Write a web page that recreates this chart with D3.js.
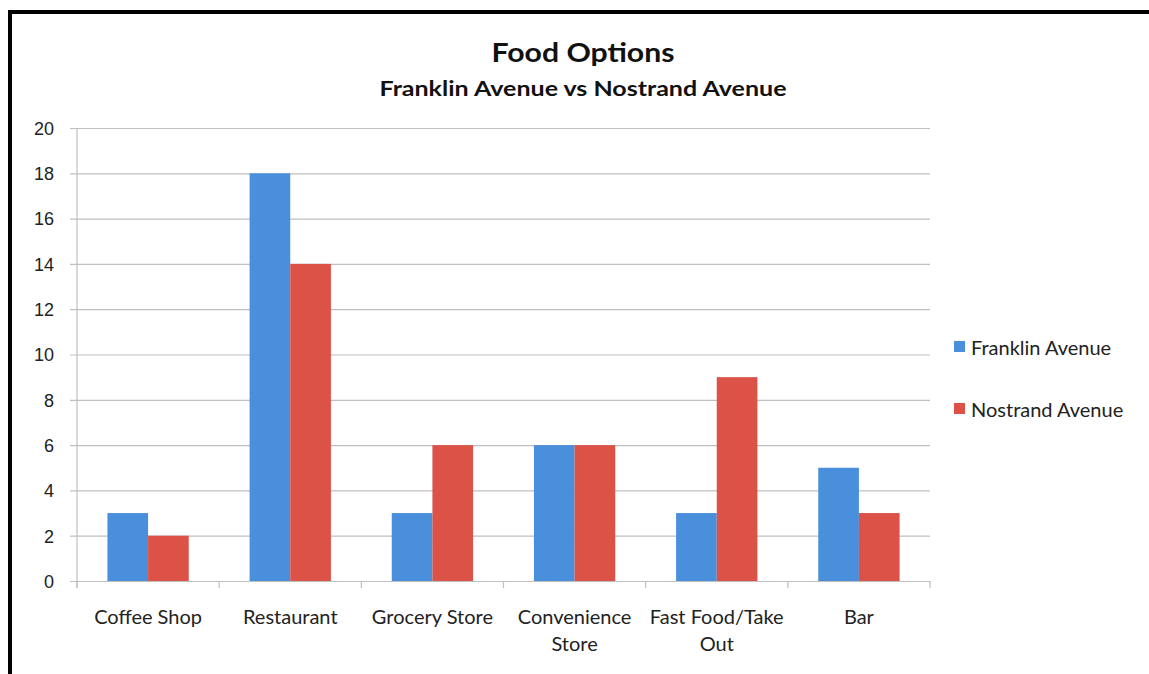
<!DOCTYPE html>
<html>
<head>
<meta charset="utf-8">
<script src="https://cdn.jsdelivr.net/npm/d3@7"></script>
<style>
  body { margin: 0; background: #fff; }
  svg { display: block; font-family: Lato, "Open Sans", sans-serif; }
</style>
</head>
<body>
<svg id="chart" width="1149" height="674"></svg>
<script>
const categories = ["Coffee Shop", "Restaurant", "Grocery Store", "Convenience Store", "Fast Food/Take Out", "Bar"];
const seriesNames = ["Franklin Avenue", "Nostrand Avenue"];
const franklin = [3, 18, 3, 6, 3, 5];
const nostrand = [2, 14, 6, 6, 9, 3];
const yTicks = [0, 2, 4, 6, 8, 10, 12, 14, 16, 18, 20];

// label wrapping as in the original
const labelLines = {
  "Convenience Store": ["Convenience", "Store"],
  "Fast Food/Take Out": ["Fast Food/Take", "Out"]
};

const colors = { "Franklin Avenue": "#4a8fdb", "Nostrand Avenue": "#dc5246" };
const margin = { top: 128, right: 219, bottom: 93, left: 77 };
const W = 1149, H = 674;

const svg = d3.select("#chart");

// frame (top and left edges visible)
svg.append("path")
  .attr("d", `M10,${H} L10,12 L${W},12`)
  .attr("fill", "none")
  .attr("stroke", "#000")
  .attr("stroke-width", 4);

const data = categories.map((c, i) => ({ cat: c, "Franklin Avenue": franklin[i], "Nostrand Avenue": nostrand[i] }));

const x0 = d3.scaleBand()
  .domain(categories)
  .range([margin.left, W - margin.right])
  .paddingInner(0.428)
  .paddingOuter(0.214);

const x1 = d3.scaleBand()
  .domain(seriesNames)
  .range([0, x0.bandwidth()]);

const y = d3.scaleLinear()
  .domain([0, 20])
  .range([H - margin.bottom, margin.top]);

// gridlines + y axis
const yAxis = d3.axisLeft(y)
  .tickValues(yTicks)
  .tickSize(-(W - margin.right - margin.left) - 7)
  .tickPadding(16)
  .tickFormat(d3.format("d"));

const yg = svg.append("g")
  .attr("transform", `translate(${margin.left - 7},0)`)
  .call(yAxis);
yg.select(".domain").remove();
yg.selectAll(".tick line").attr("stroke", "#bfbfbf").attr("stroke-width", 1.2);
yg.selectAll(".tick text")
  .attr("font-size", 18)
  .attr("fill", "#222")
  .attr("x", -16)
  .attr("dy", "0.35em");

// vertical axis line
svg.append("line")
  .attr("x1", margin.left).attr("x2", margin.left)
  .attr("y1", margin.top).attr("y2", H - margin.bottom + 7)
  .attr("stroke", "#bfbfbf").attr("stroke-width", 1.2);

// x axis boundary ticks
const step = x0.step();
const bounds = d3.range(categories.length + 1).map(i => margin.left + i * step);
svg.append("g").selectAll("line")
  .data(bounds)
  .join("line")
  .attr("x1", d => d).attr("x2", d => d)
  .attr("y1", H - margin.bottom).attr("y2", H - margin.bottom + 7)
  .attr("stroke", "#bfbfbf").attr("stroke-width", 1.2);

// bars
const groups = svg.append("g").selectAll("g")
  .data(data)
  .join("g")
  .attr("transform", d => `translate(${x0(d.cat)},0)`);

groups.selectAll("rect")
  .data(d => seriesNames.map(s => ({ s, v: d[s] })))
  .join("rect")
  .attr("x", d => x1(d.s))
  .attr("y", d => y(d.v))
  .attr("width", x1.bandwidth())
  .attr("height", d => y(0) - y(d.v))
  .attr("fill", d => colors[d.s]);

// x labels
const xl = svg.append("g").selectAll("text")
  .data(categories)
  .join("text")
  .attr("x", d => x0(d) + x0.bandwidth() / 2)
  .attr("y", H - margin.bottom + 43)
  .attr("text-anchor", "middle")
  .attr("font-size", 20)
  .attr("fill", "#222");
xl.each(function (d) {
  const lines = labelLines[d] || [d];
  d3.select(this).selectAll("tspan")
    .data(lines)
    .join("tspan")
    .attr("x", x0(d) + x0.bandwidth() / 2)
    .attr("dy", (l, i) => i === 0 ? 0 : 27)
    .text(l => l);
});

// titles
svg.append("text")
  .attr("x", 583).attr("y", 62)
  .attr("text-anchor", "middle")
  .attr("font-size", 27)
  .attr("font-weight", "bold")
  .attr("fill", "#111")
  .attr("textLength", 183)
  .attr("lengthAdjust", "spacingAndGlyphs")
  .text("Food Options");

svg.append("text")
  .attr("x", 583).attr("y", 96)
  .attr("text-anchor", "middle")
  .attr("font-size", 20)
  .attr("font-weight", "bold")
  .attr("fill", "#111")
  .attr("textLength", 407)
  .attr("lengthAdjust", "spacingAndGlyphs")
  .text("Franklin Avenue vs Nostrand Avenue");

// legend
const legend = svg.append("g").selectAll("g")
  .data(seriesNames)
  .join("g")
  .attr("transform", (d, i) => `translate(954,${341 + i * 62})`);

legend.append("rect")
  .attr("width", 11).attr("height", 11)
  .attr("fill", d => colors[d]);

legend.append("text")
  .attr("x", 17).attr("y", 7)
  .attr("dy", "0.35em")
  .attr("font-size", 20)
  .attr("fill", "#222")
  .text(d => d);
</script>
</body>
</html>
